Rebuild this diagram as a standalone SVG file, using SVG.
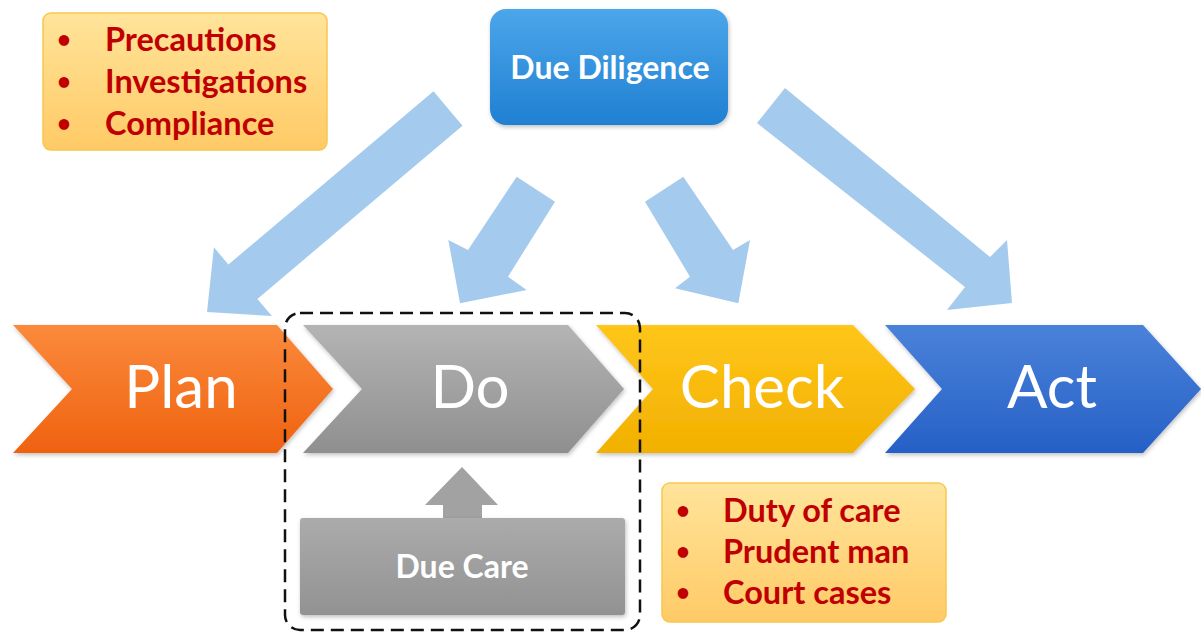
<svg xmlns="http://www.w3.org/2000/svg" width="1201" height="632" viewBox="0 0 1201 632">
  <defs>
    <linearGradient id="gPlan" x1="0" y1="0" x2="0" y2="1">
      <stop offset="0" stop-color="#FB8A3C"/>
      <stop offset="1" stop-color="#EF6210"/>
    </linearGradient>
    <linearGradient id="gDo" x1="0" y1="0" x2="0" y2="1">
      <stop offset="0" stop-color="#B4B4B4"/>
      <stop offset="1" stop-color="#8F8F8F"/>
    </linearGradient>
    <linearGradient id="gCheck" x1="0" y1="0" x2="0" y2="1">
      <stop offset="0" stop-color="#FFC61A"/>
      <stop offset="1" stop-color="#F2B000"/>
    </linearGradient>
    <linearGradient id="gAct" x1="0" y1="0" x2="0" y2="1">
      <stop offset="0" stop-color="#4A82DA"/>
      <stop offset="1" stop-color="#2660C6"/>
    </linearGradient>
    <linearGradient id="gDD" x1="0" y1="0" x2="0" y2="1">
      <stop offset="0" stop-color="#4CA6EA"/>
      <stop offset="1" stop-color="#1F80D2"/>
    </linearGradient>
    <linearGradient id="gNote" x1="0" y1="0" x2="0" y2="1">
      <stop offset="0" stop-color="#FFE49A"/>
      <stop offset="1" stop-color="#FFCA66"/>
    </linearGradient>
    <linearGradient id="gCare" x1="0" y1="0" x2="0" y2="1">
      <stop offset="0" stop-color="#ABABAB"/>
      <stop offset="1" stop-color="#929292"/>
    </linearGradient>
    <filter id="sh" x="-10%" y="-10%" width="120%" height="130%">
      <feDropShadow dx="1" dy="2" stdDeviation="2" flood-color="#000" flood-opacity="0.25"/>
    </filter>
  </defs>
  <style>
    .chev { filter: url(#sh); }
    .big { font-family: Lato, "Liberation Sans", sans-serif; font-size: 60px; fill: #FFFFFF; text-anchor: middle; }
    .lbl { font-family: Lato, "Liberation Sans", sans-serif; font-weight: bold; font-size: 32px; fill: #FFFFFF; text-anchor: middle; }
    .note { fill: url(#gNote); stroke: #F6C84E; stroke-width: 1.5; }
    .nt { font-family: Lato, "Liberation Sans", sans-serif; font-weight: bold; font-size: 32.5px; fill: #C00000; }
    .bul { font-family: Lato, "Liberation Sans", sans-serif; font-weight: bold; font-size: 24px; fill: #C00000; }
    .blue { fill: #A4CBEE; }
  </style>
  <rect width="1201" height="632" fill="#FFFFFF"/>

  <g id="connectors">
    <polygon class="blue" points="433.5,91.3 228.4,264.5 213.9,247.3 207,312 271.9,316.1 257.4,298.9 462.5,125.7"/>
    <polygon class="blue" points="516.7,176.7 468,250 448.3,240 460,303.3 526.7,290 508,276.7 555,201.7"/>
    <polygon class="blue" points="683.3,176.7 733,250 750,240 738.3,303.3 675,288.3 690,276.7 645,201.7"/>
    <polygon class="blue" points="785,88 990,257 1007,240 1012,303 947,310 965,287 757,123"/>
    <polygon fill="#A2A2A2" points="462,467 498,505 482,505 482,519 443,519 443,505 425,505"/>
  </g>

  <g id="plan">
    <polygon class="chev" fill="url(#gPlan)" points="13,325 277,325 333,389 277,453 13,453 72,389"/>
    <text class="big" x="181" y="408">Plan</text>
  </g>
  <g id="do">
    <polygon class="chev" fill="url(#gDo)" points="303,325 568,325 624,389 568,453 303,453 362,389"/>
    <text class="big" x="470" y="408">Do</text>
  </g>
  <g id="check">
    <polygon class="chev" fill="url(#gCheck)" points="596,325 853,325 915,389 853,453 596,453 653,389"/>
    <text class="big" x="762" y="408">Check</text>
  </g>
  <g id="act">
    <polygon class="chev" fill="url(#gAct)" points="885,325 1143,325 1201,389 1143,453 885,453 942,389"/>
    <text class="big" x="1052" y="408">Act</text>
  </g>

  <g id="due-diligence">
    <rect x="490" y="9" width="238" height="116" rx="16" fill="url(#gDD)" filter="url(#sh)"/>
    <text class="lbl" x="610" y="79">Due Diligence</text>
  </g>

  <g id="due-care">
    <rect x="300" y="518" width="325" height="97" rx="3" fill="url(#gCare)" filter="url(#sh)"/>
    <text class="lbl" x="462" y="578">Due Care</text>
  </g>

  <g id="dashed-box">
    <rect x="285" y="313" width="355" height="317" rx="15" fill="none" stroke="#111" stroke-width="2.5" stroke-dasharray="13 7"/>
  </g>

  <g id="diligence-notes">
    <rect class="note" x="43" y="13" width="284" height="137" rx="8"/>
    <text class="bul" x="57" y="48">•</text>
    <text class="nt" x="105" y="51">Precautions</text>
    <text class="bul" x="57" y="90">•</text>
    <text class="nt" x="105" y="93">Investigations</text>
    <text class="bul" x="57" y="132">•</text>
    <text class="nt" x="105" y="135">Compliance</text>
  </g>

  <g id="care-notes">
    <rect class="note" x="662" y="483" width="284" height="139" rx="8"/>
    <text class="bul" x="676" y="519">•</text>
    <text class="nt" x="723" y="522">Duty of care</text>
    <text class="bul" x="676" y="560">•</text>
    <text class="nt" x="723" y="563">Prudent man</text>
    <text class="bul" x="676" y="601">•</text>
    <text class="nt" x="723" y="604">Court cases</text>
  </g>
</svg>
